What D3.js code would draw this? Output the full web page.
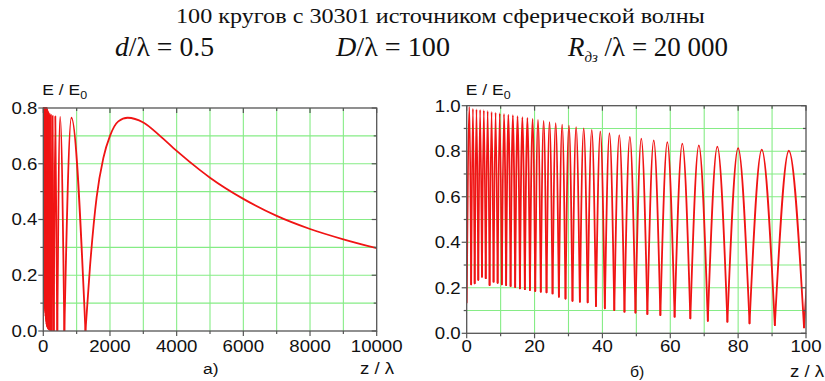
<!DOCTYPE html>
<html><head><meta charset="utf-8">
<script src="https://cdn.jsdelivr.net/npm/d3@7"></script>
<style>body{margin:0;background:#fff}svg{display:block}</style>
</head><body>
<svg id="c" width="825" height="381"></svg>
<script>
// ---- data ----
const troughZ = [0,1.316,2.354,3.415,4.5,5.611,6.75,7.919,9.119,10.354,11.625,12.936,14.289,15.689,17.139,18.643,20.206,21.833,23.531,25.306,27.167,29.121,31.179,33.352,35.654,38.1,40.708,43.5,46.5,49.738,53.25,57.079,61.278,65.912,71.063,76.833,83.357,90.808,99.417,109.5,121.5,136.06,154.1,177.2,207.8,250.5,314.25,420.2,631.5,1264.5];
const troughV = [0.135,0.215,0.22,0.235,0.249,0.242,0.212,0.227,0.222,0.215,0.212,0.208,0.203,0.198,0.194,0.19,0.186,0.183,0.18,0.175,0.161,0.153,0.143,0.139,0.136,0.12,0.11,0.102,0.095,0.091,0.085,0.08,0.073,0.066,0.055,0.051,0.044,0.036,0.026,0.02,0.016,0.012,0.009,0.006,0.004,0.002,0.001,0,0,0];
const peakZ = [0.806,1.832,2.882,3.954,5.052,6.177,7.33,8.515,9.732,10.985,12.275,13.607,14.983,16.408,17.884,19.417,21.011,22.673,24.409,26.225,28.131,30.136,32.25,34.486,36.858,39.383,42.08,44.972,48.087,51.457,55.122,59.128,63.536,68.417,73.863,79.991,86.954,94.95,104.25,115.23,128.41,144.6,164.9,191.4,227.25,278.9,359.7,504.75,842.6];
const peakV = [0.995,0.987,0.984,0.982,0.98,0.977,0.973,0.97,0.967,0.964,0.961,0.958,0.954,0.95,0.946,0.942,0.938,0.933,0.928,0.923,0.917,0.912,0.906,0.9,0.894,0.887,0.879,0.871,0.863,0.855,0.848,0.84,0.833,0.826,0.82,0.814,0.807,0.802,0.797,0.793,0.789,0.785,0.781,0.778,0.775,0.772,0.77,0.768,0.765];
const tailZ = [1400,1600,1800,2000,2250,2530,3000,3500,4000,4700,5000,6000,7000,8000,9000,10000];
const tailV = [0.23,0.48,0.62,0.70,0.752,0.765,0.748,0.70,0.646,0.577,0.55,0.474,0.413,0.366,0.329,0.297];

const xTicksA = [0,2000,4000,6000,8000,10000];
const yTicksA = [0.0,0.2,0.4,0.6,0.8];
const xTicksB = [0,20,40,60,80,100];
const yTicksB = [0.0,0.2,0.4,0.6,0.8,1.0];
const titleText = "100 кругов с 30301 источником сферической волны";
const panelLabels = ["а)", "б)"];

// ---- build arches ----
const arches = peakZ.map((pz,i)=>[[troughZ[i],troughV[i]],[pz,peakV[i]],[troughZ[i+1],troughV[i+1]]]);
const tail = [[troughZ[troughZ.length-1], troughV[troughV.length-1]]].concat(tailZ.map((z,i)=>[z,tailV[i]]));
const pieces = arches.concat([tail]);

const svg = d3.select("#c");
const SX = 1.13;
const sans = "'Liberation Sans', Arial, Helvetica, sans-serif";
const serif = "'Liberation Serif', 'Times New Roman', Times, serif";

function txt(g, x, y, str, o) {
  o = o || {};
  const t = g.append("text")
    .attr("transform", `translate(${x},${y}) scale(${o.sx||SX},1)`)
    .attr("font-family", o.family || sans)
    .attr("font-size", o.size || 16)
    .attr("text-anchor", o.anchor || "start")
    .attr("fill", "#111");
  if (o.dy) t.attr("dy", o.dy);
  t.text(str);
  return t;
}

function panel(o) {
  const g = svg.append("g");
  const x = d3.scaleLinear().domain(o.xd).range([o.x0, o.x1]);
  const y = d3.scaleLinear().domain(o.yd).range([o.y0, o.y1]);
  const gx = d3.range(o.xd[0]+o.xminor, o.xd[1]-o.xminor/2, o.xminor);
  const gy = d3.range(o.yd[0]+0.1, o.yd[1]-0.05, 0.1);
  g.selectAll(".gx").data(gx).join("line")
    .attr("x1", d=>x(d)).attr("x2", d=>x(d)).attr("y1", o.y0).attr("y2", o.y1)
    .attr("stroke", "#86ec86").attr("stroke-width", 1.1);
  g.selectAll(".gy").data(gy).join("line")
    .attr("y1", d=>y(d)).attr("y2", d=>y(d)).attr("x1", o.x0).attr("x2", o.x1)
    .attr("stroke", "#86ec86").attr("stroke-width", 1.1);
  const cid = "clip" + o.id;
  svg.append("clipPath").attr("id", cid).append("rect")
    .attr("x", o.x0).attr("y", o.y1 - 1).attr("width", o.x1 - o.x0).attr("height", o.y0 - o.y1 + 1);
  const line = d3.line().x(d=>x(d[0])).y(d=>y(d[1])).curve(d3.curveMonotoneX);
  const vis = pieces.filter(p => p[0][0] <= o.xd[1]);
  g.append("g").attr("clip-path", `url(#${cid})`)
    .selectAll("path").data(vis).join("path")
    .attr("d", line).attr("fill", "none")
    .attr("stroke", "#f01414").attr("stroke-width", 1.8)
    .attr("stroke-linecap", "round").attr("stroke-linejoin", "round");
  g.append("rect").attr("x", o.x0).attr("y", o.y1).attr("width", o.x1-o.x0).attr("height", o.y0-o.y1)
    .attr("fill", "none").attr("stroke", "#555").attr("stroke-width", 1.3);
  const xt = d3.range(o.xd[0], o.xd[1] + o.xminor/2, o.xminor);
  const yt = d3.range(o.yd[0], o.yd[1] + 0.05, 0.1);
  const isMajX = d => o.xt.some(v => Math.abs(v-d) < 1e-6);
  const isMajY = d => o.yt.some(v => Math.abs(v-d) < 1e-6);
  g.selectAll(".tb").data(xt).join("line")
    .attr("x1", d=>x(d)).attr("x2", d=>x(d)).attr("y1", o.y0).attr("y2", d=>o.y0 + (isMajX(d)?5:3))
    .attr("stroke", "#555").attr("stroke-width", 1.2);
  g.selectAll(".tt").data(xt).join("line")
    .attr("x1", d=>x(d)).attr("x2", d=>x(d)).attr("y1", o.y1).attr("y2", d=>o.y1 + (isMajX(d)?5:3))
    .attr("stroke", "#555").attr("stroke-width", 1.2);
  g.selectAll(".tl").data(yt).join("line")
    .attr("y1", d=>y(d)).attr("y2", d=>y(d)).attr("x1", o.x0).attr("x2", d=>o.x0 - (isMajY(d)?5:3))
    .attr("stroke", "#555").attr("stroke-width", 1.2);
  g.selectAll(".tr").data(yt).join("line")
    .attr("y1", d=>y(d)).attr("y2", d=>y(d)).attr("x1", o.x1).attr("x2", d=>o.x1 - (isMajY(d)?5:3))
    .attr("stroke", "#555").attr("stroke-width", 1.2);
  o.xt.forEach(v => txt(g, x(v), 351.5, String(v), {anchor:"middle", size:16.5}));
  o.yt.forEach(v => txt(g, o.x0 - 6, y(v), v.toFixed(1), {anchor:"end", size:16.5, dy:"0.36em"}));
  const el = txt(g, o.x0 - 1, 95, "E / E", {size:15.5});
  el.append("tspan").attr("font-size", 11).attr("dy", 4).text("0");
  txt(g, o.zx, o.zy, "z / λ", {size:16.5});
  txt(g, o.lx, o.ly, o.label, {size:o.lsize});
  return g;
}

panel({id:"A", xd:[0,10000], yd:[0,0.8], x0:43.3, x1:376.7, y0:331, y1:108, xminor:1000,
  xt:xTicksA, yt:yTicksA, zx:360, zy:374, lx:203, ly:374, label:panelLabels[0], lsize:15.5});
panel({id:"B", xd:[0,100], yd:[0,1.0], x0:466.7, x1:806, y0:333.3, y1:105.7, xminor:10,
  xt:xTicksB, yt:yTicksB, zx:790, zy:377, lx:630, ly:377, label:panelLabels[1], lsize:14});

// ---- title lines ----
function fitText(x0, x1, y, build, size) {
  const t = svg.append("text").attr("font-family", serif).attr("font-size", size).attr("fill", "#111");
  build(t);
  const w = t.node().getComputedTextLength();
  const s = (x1 - x0) / w;
  t.attr("transform", `translate(${x0},${y}) scale(${s},1)`);
  return t;
}
function sp(t, s, italic, extra) {
  const ts = t.append("tspan").attr("font-family", serif).text(s);
  if (italic) ts.attr("font-style", "italic");
  if (extra) extra(ts);
  return ts;
}
fitText(176, 705, 23, t => t.text(titleText), 21);
fitText(115, 214, 56, t => {
  sp(t, "d", true); sp(t, "/"); sp(t, "λ"); sp(t, " = 0.5");
}, 27);
fitText(336, 450, 56, t => {
  sp(t, "D", true); sp(t, "/"); sp(t, "λ"); sp(t, " = 100");
}, 27);
fitText(568, 728, 56, t => {
  sp(t, "R", true);
  sp(t, "дз", true, ts => ts.attr("font-size", 15).attr("dy", 6));
  sp(t, " /", false, ts => ts.attr("dy", -6));
  sp(t, "λ"); sp(t, " = 20 000");
}, 27);
</script>
</body></html>
